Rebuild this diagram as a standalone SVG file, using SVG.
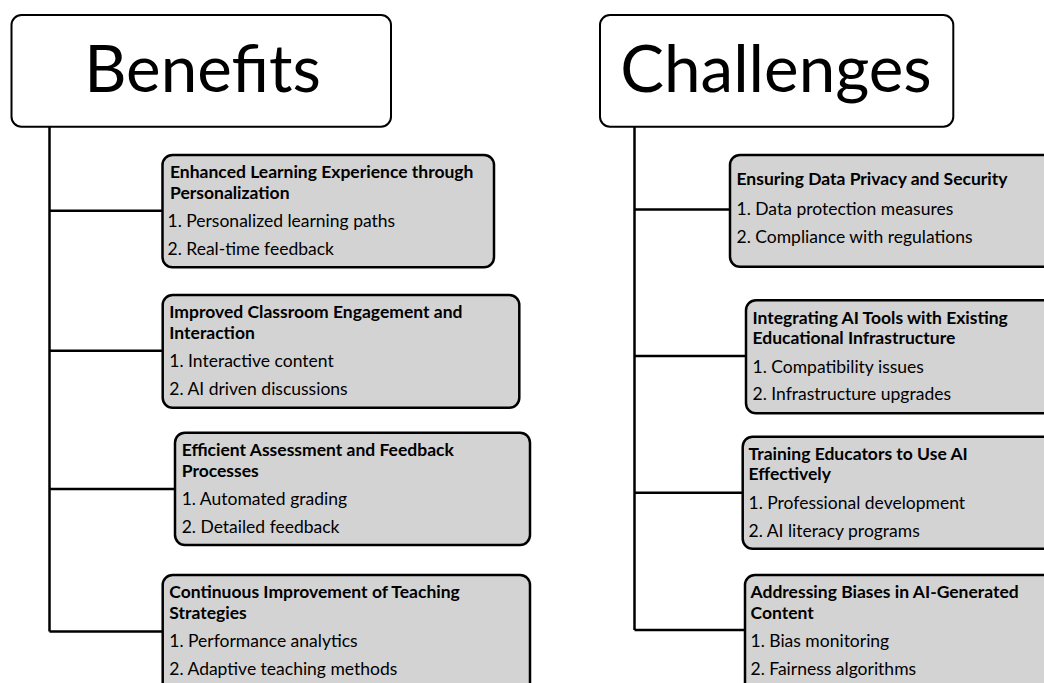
<svg xmlns="http://www.w3.org/2000/svg" width="1044" height="683" viewBox="0 0 1044 683">
  <style>
    .hdr { fill: #ffffff; stroke: #000000; stroke-width: 2; }
    .hdr-text { font-family: Lato, "Liberation Sans", sans-serif; font-size: 65.5px; fill: #000000; text-anchor: middle; }
    .card { fill: #d3d3d3; stroke: #000000; stroke-width: 2.5; }
    .title { font-family: Lato, "Liberation Sans", sans-serif; font-size: 17.5px; font-weight: bold; fill: #000000; }
    .item { font-family: Lato, "Liberation Sans", sans-serif; font-size: 17.5px; fill: #000000; }
    .wire { fill: none; stroke: #000000; stroke-width: 2.5; }
  </style>
  <rect width="1044" height="683" fill="#ffffff"/>

  <!-- tree connectors -->
  <g id="connectors">
    <path class="wire" d="M49.5 127 V631.5 M49.5 210.7 H162.5 M49.5 350.7 H162.7 M49.5 489 H175 M49.5 631.5 H162.7"/>
    <path class="wire" d="M634.5 127 V630 M634.5 209.5 H730 M634.5 356 H746 M634.5 492.7 H742.7 M634.5 630 H745"/>
  </g>

  <!-- left column -->
  <g id="benefits">
    <rect class="hdr" x="11.5" y="15" width="379.5" height="111.7" rx="10"/>
    <text class="hdr-text" x="202.5" y="91.7">Benefits</text>
  </g>
  <g id="b1">
    <rect class="card" x="162.5" y="155" width="331.5" height="112.3" rx="10"/>
    <text class="title" x="170" y="178.3">Enhanced Learning Experience through</text>
    <text class="title" x="170" y="199">Personalization</text>
    <text class="item" x="167.5" y="227.3">1. Personalized learning paths</text>
    <text class="item" x="167.5" y="255.3">2. Real-time feedback</text>
  </g>
  <g id="b2">
    <rect class="card" x="162.7" y="295" width="356.6" height="112.7" rx="10"/>
    <text class="title" x="169.3" y="318.3">Improved Classroom Engagement and</text>
    <text class="title" x="169.3" y="339">Interaction</text>
    <text class="item" x="169.3" y="367">1. Interactive content</text>
    <text class="item" x="169.3" y="395">2. AI driven discussions</text>
  </g>
  <g id="b3">
    <rect class="card" x="175" y="432.7" width="355" height="112.3" rx="10"/>
    <text class="title" x="181.7" y="456.3">Efficient Assessment and Feedback</text>
    <text class="title" x="181.7" y="476.5">Processes</text>
    <text class="item" x="181.7" y="505">1. Automated grading</text>
    <text class="item" x="181.7" y="532.7">2. Detailed feedback</text>
  </g>
  <g id="b4">
    <rect class="card" x="162.7" y="575" width="367.3" height="130" rx="10"/>
    <text class="title" x="169.3" y="598.3">Continuous Improvement of Teaching</text>
    <text class="title" x="169.3" y="619">Strategies</text>
    <text class="item" x="169.3" y="646.7">1. Performance analytics</text>
    <text class="item" x="169.3" y="675.3">2. Adaptive teaching methods</text>
  </g>

  <!-- right column -->
  <g id="challenges">
    <rect class="hdr" x="600" y="15" width="353.3" height="111.7" rx="10"/>
    <text class="hdr-text" x="776" y="91.7">Challenges</text>
  </g>
  <g id="c1">
    <rect class="card" x="730" y="155" width="340" height="111.7" rx="10"/>
    <text class="title" x="736.5" y="185">Ensuring Data Privacy and Security</text>
    <text class="item" x="736.5" y="215">1. Data protection measures</text>
    <text class="item" x="736.5" y="242.7">2. Compliance with regulations</text>
  </g>
  <g id="c2">
    <rect class="card" x="746" y="300.3" width="324" height="113" rx="10"/>
    <text class="title" x="752.5" y="323.5">Integrating AI Tools with Existing</text>
    <text class="title" x="752.5" y="343.5">Educational Infrastructure</text>
    <text class="item" x="752.5" y="372.5">1. Compatibility issues</text>
    <text class="item" x="752.5" y="400">2. Infrastructure upgrades</text>
  </g>
  <g id="c3">
    <rect class="card" x="742.7" y="436.7" width="327.3" height="112" rx="10"/>
    <text class="title" x="748.5" y="460">Training Educators to Use AI</text>
    <text class="title" x="748.5" y="480">Effectively</text>
    <text class="item" x="748.5" y="509.2">1. Professional development</text>
    <text class="item" x="748.5" y="537">2. AI literacy programs</text>
  </g>
  <g id="c4">
    <rect class="card" x="745" y="575" width="325" height="130" rx="10"/>
    <text class="title" x="750.5" y="598.3">Addressing Biases in AI-Generated</text>
    <text class="title" x="750.5" y="618.5">Content</text>
    <text class="item" x="750.5" y="646.7">1. Bias monitoring</text>
    <text class="item" x="750.5" y="675">2. Fairness algorithms</text>
  </g>
</svg>
